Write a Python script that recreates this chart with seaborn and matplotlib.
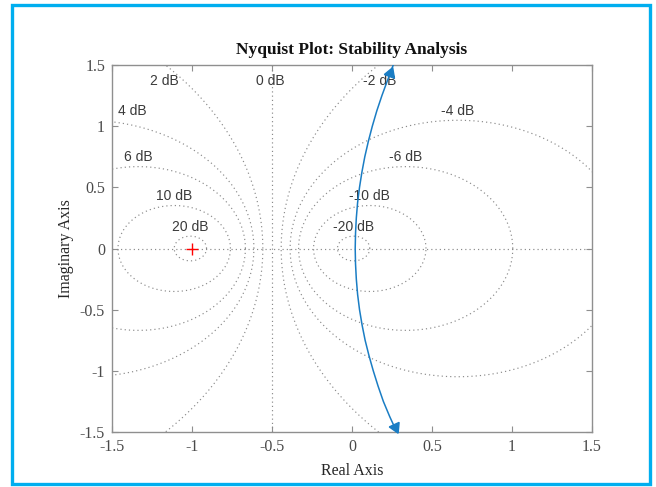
import numpy as np
import pandas as pd
import matplotlib
matplotlib.use("Agg")
import matplotlib.pyplot as plt
import seaborn as sns
from matplotlib.patches import Rectangle
from matplotlib.ticker import FuncFormatter

# ---------------- data ----------------
db_levels = [-20, -10, -6, -4, -2, 0, 2, 4, 6, 10, 20]
nyq_imag = [1.5, 1.375, 1.25, 1.125, 1.0, 0.875, 0.75, 0.625, 0.5, 0.375, 0.25, 0.125, 0.0,
            -0.125, -0.25, -0.375, -0.5, -0.625, -0.75, -0.875, -1.0, -1.125, -1.25, -1.375, -1.5]
nyq_real = [0.258, 0.222, 0.187, 0.155, 0.127, 0.102, 0.080, 0.062, 0.047, 0.035, 0.027, 0.022, 0.020,
            0.022, 0.027, 0.035, 0.047, 0.063, 0.082, 0.106, 0.133, 0.163, 0.196, 0.236, 0.280]
x_ticks = [-1.5, -1, -0.5, 0, 0.5, 1, 1.5]
y_ticks = [-1.5, -1, -0.5, 0, 0.5, 1, 1.5]
critical_point = (-1.0, 0.0)
title_text = "Nyquist Plot: Stability Analysis"
xlabel_text = "Real Axis"
ylabel_text = "Imaginary Axis"

# ---------------- style ----------------
sns.set_style("white")
plt.rcParams["axes.unicode_minus"] = False
serif = ["Liberation Serif", "DejaVu Serif"]
sans = ["Liberation Sans", "DejaVu Sans"]

W, H = 656, 487
fig = plt.figure(figsize=(W / 100, H / 100), dpi=100)
ax_left, ax_right, ax_top, ax_bot = 112, 592, 65, 432
ax = fig.add_axes([ax_left / W, 1 - ax_bot / H, (ax_right - ax_left) / W, (ax_bot - ax_top) / H])

grid_color = "#8a8a8a"
grid_ls = (0, (1.0, 2.6))
theta = np.linspace(0, 2 * np.pi, 721)

label_pos = {}
for db in db_levels:
    M = 10 ** (db / 20.0)
    if db == 0:
        ax.plot([-0.5, -0.5], [-1.5, 1.5], color=grid_color, lw=0.85, ls=grid_ls, zorder=1)
        continue
    c = -M ** 2 / (M ** 2 - 1)
    r = abs(M / (M ** 2 - 1))
    ax.plot(c + r * np.cos(theta), r * np.sin(theta), color=grid_color, lw=0.85,
            ls=grid_ls, zorder=1)
    if r < 1.3:
        label_pos[db] = (max(c, -1.46), r + 0.075, "center" if c > -1.46 else "left")

ax.plot([-1.5, 1.5], [0, 0], color=grid_color, lw=0.85, ls=grid_ls, zorder=1)

# labels for circles whose top is outside the view
label_pos[2] = (-1.17, 1.37, "center")
label_pos[0] = (-0.51, 1.37, "center")
label_pos[-2] = (0.175, 1.37, "center")
label_pos[4] = (-1.465, 1.12, "left")

for db in db_levels:
    x, y, ha = label_pos[db]
    ax.text(x, y, f"{db} dB", ha=ha, va="center", fontsize=10, color="#3a3a3a",
            family=sans, zorder=3)

# Nyquist curve
curve_color = "#1a7dc4"
curve = pd.DataFrame({"Real": nyq_real, "Imag": nyq_imag})
sns.lineplot(data=curve, x="Real", y="Imag", sort=False, estimator=None,
             color=curve_color, lw=1.1, ax=ax, zorder=4)

# filled triangle arrows along the curve
px_per_x = (ax_right - ax_left) / 3.0
px_per_y = (ax_bot - ax_top) / 3.0

def arrow(i_from, i_to, frac):
    p_from = np.array([nyq_real[i_from], nyq_imag[i_from]])
    p_to = np.array([nyq_real[i_to], nyq_imag[i_to]])
    pos = p_from + frac * (p_to - p_from)
    d = p_to - p_from
    ang = np.degrees(np.arctan2(d[1] * px_per_y, d[0] * px_per_x)) - 90
    ax.plot([pos[0]], [pos[1]], marker=(3, 0, ang), markersize=9, color=curve_color,
            mec=curve_color, ls="none", zorder=5, clip_on=False)

arrow(1, 0, 0.45)
n = len(nyq_imag)
arrow(n - 2, n - 1, 0.68)

# critical point
ax.plot([critical_point[0]], [critical_point[1]], marker="+", color="red",
        markersize=9, mew=1.0, ls="none", zorder=6)

# axes
ax.set_xlim(-1.5, 1.5)
ax.set_ylim(-1.5, 1.5)
ax.set_xticks(x_ticks)
ax.set_yticks(y_ticks)
fmt = FuncFormatter(lambda v, p: f"{v:g}")
ax.xaxis.set_major_formatter(fmt)
ax.yaxis.set_major_formatter(fmt)
ax.tick_params(direction="in", length=4, width=0.8, color="#8f8f8f",
               top=True, right=True, bottom=True, left=True,
               labelsize=11.5, labelcolor="#4a4a4a", pad=5)
for lab in ax.get_xticklabels() + ax.get_yticklabels():
    lab.set_family(serif)
for s in ax.spines.values():
    s.set_color("#8f8f8f")
    s.set_linewidth(1.0)
    s.set_visible(True)

ax.set_xlabel(xlabel_text, fontsize=11.5, family=serif, color="#262626", labelpad=6)
ax.set_ylabel(ylabel_text, fontsize=11.5, family=serif, color="#262626", labelpad=4)
ax.set_title(title_text, fontsize=12.5, family=serif, fontweight="bold",
             color="#111111", pad=8)

# blue frame around the figure
fig.patches.append(Rectangle((12 / W, 1 - 484 / H), 638 / W, 479 / H,
                             transform=fig.transFigure, fill=False,
                             edgecolor="#00AEEF", lw=2.4, zorder=10))

fig.savefig("out.png", dpi=100)
